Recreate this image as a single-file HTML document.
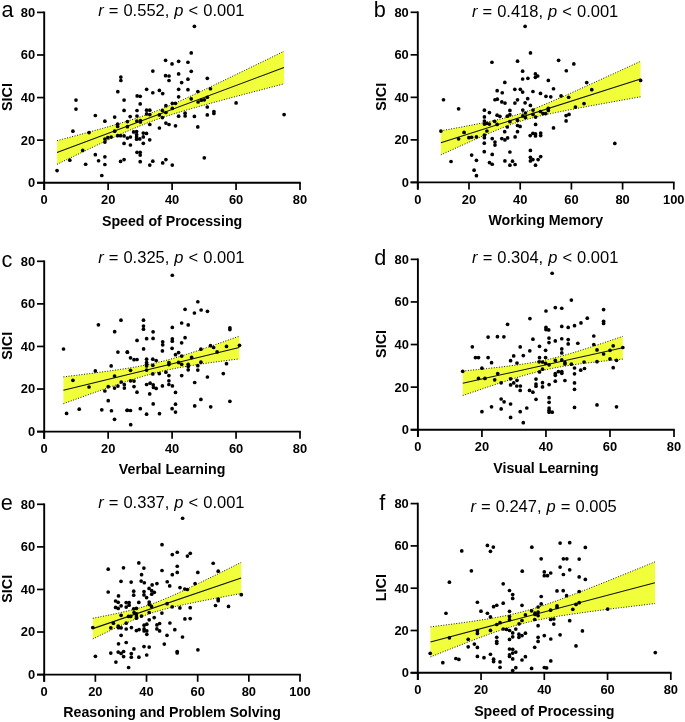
<!DOCTYPE html><html><head><meta charset="utf-8"><style>html,body{margin:0;padding:0;background:#fff;}svg{display:block;will-change:transform}</style></head><body>
<svg width="685" height="722" viewBox="0 0 685 722" style="font-family:&quot;Liberation Sans&quot;, sans-serif">
<rect width="685" height="722" fill="#fff"/>
<g id="pa"><polygon points="56.99,140.69 62.67,139.19 68.34,137.68 74.02,136.17 79.69,134.64 85.37,133.11 91.04,131.56 96.72,130 102.39,128.43 108.07,126.82 113.75,125.19 119.42,123.53 125.1,121.82 130.77,120.05 136.45,118.2 142.12,116.28 147.8,114.26 153.47,112.13 159.15,109.9 164.83,107.58 170.5,105.17 176.18,102.69 181.85,100.15 187.53,97.57 193.2,94.95 198.88,92.3 204.55,89.63 210.23,86.94 215.91,84.24 221.58,81.53 227.26,78.8 232.93,76.07 238.61,73.33 244.28,70.58 249.96,67.83 255.63,65.08 261.31,62.32 266.99,59.56 272.66,56.8 278.34,54.03 284.01,51.26 284.01,83.84 278.34,85.32 272.66,86.8 266.99,88.29 261.31,89.77 255.63,91.26 249.96,92.76 244.28,94.25 238.61,95.76 232.93,97.27 227.26,98.78 221.58,100.3 215.91,101.84 210.23,103.38 204.55,104.94 198.88,106.52 193.2,108.12 187.53,109.75 181.85,111.42 176.18,113.13 170.5,114.9 164.83,116.73 159.15,118.66 153.47,120.68 147.8,122.8 142.12,125.03 136.45,127.35 130.77,129.76 125.1,132.23 119.42,134.77 113.75,137.35 108.07,139.97 102.39,142.62 96.72,145.28 91.04,147.97 85.37,150.67 79.69,153.39 74.02,156.11 68.34,158.85 62.67,161.59 56.99,164.33" fill="#f0ff3a"/><polyline points="56.99,140.69 62.67,139.19 68.34,137.68 74.02,136.17 79.69,134.64 85.37,133.11 91.04,131.56 96.72,130 102.39,128.43 108.07,126.82 113.75,125.19 119.42,123.53 125.1,121.82 130.77,120.05 136.45,118.2 142.12,116.28 147.8,114.26 153.47,112.13 159.15,109.9 164.83,107.58 170.5,105.17 176.18,102.69 181.85,100.15 187.53,97.57 193.2,94.95 198.88,92.3 204.55,89.63 210.23,86.94 215.91,84.24 221.58,81.53 227.26,78.8 232.93,76.07 238.61,73.33 244.28,70.58 249.96,67.83 255.63,65.08 261.31,62.32 266.99,59.56 272.66,56.8 278.34,54.03 284.01,51.26" fill="none" stroke="#000" stroke-width="0.9" stroke-dasharray="1 1.6"/><polyline points="56.99,164.33 62.67,161.59 68.34,158.85 74.02,156.11 79.69,153.39 85.37,150.67 91.04,147.97 96.72,145.28 102.39,142.62 108.07,139.97 113.75,137.35 119.42,134.77 125.1,132.23 130.77,129.76 136.45,127.35 142.12,125.03 147.8,122.8 153.47,120.68 159.15,118.66 164.83,116.73 170.5,114.9 176.18,113.13 181.85,111.42 187.53,109.75 193.2,108.12 198.88,106.52 204.55,104.94 210.23,103.38 215.91,101.84 221.58,100.3 227.26,98.78 232.93,97.27 238.61,95.76 244.28,94.25 249.96,92.76 255.63,91.26 261.31,89.77 266.99,88.29 272.66,86.8 278.34,85.32 284.01,83.84" fill="none" stroke="#000" stroke-width="0.9" stroke-dasharray="1 1.6"/><line x1="56.99" y1="152.51" x2="284.01" y2="67.55" stroke="#111" stroke-width="1.1"/><circle cx="117.82" cy="91.69" r="1.85"/><circle cx="120.86" cy="77.08" r="1.85"/><circle cx="120.86" cy="80.5" r="1.85"/><circle cx="194.4" cy="26.31" r="1.85"/><circle cx="191.24" cy="52.93" r="1.85"/><circle cx="165.58" cy="60.34" r="1.85"/><circle cx="172.03" cy="63.91" r="1.85"/><circle cx="178.62" cy="61.3" r="1.85"/><circle cx="187.95" cy="62.26" r="1.85"/><circle cx="152.82" cy="71.05" r="1.85"/><circle cx="191.24" cy="71.32" r="1.85"/><circle cx="165.58" cy="75.71" r="1.85"/><circle cx="169.01" cy="75.99" r="1.85"/><circle cx="169.01" cy="80.51" r="1.85"/><circle cx="178.62" cy="73.93" r="1.85"/><circle cx="187.95" cy="79.14" r="1.85"/><circle cx="181.64" cy="82.57" r="1.85"/><circle cx="207.3" cy="78.32" r="1.85"/><circle cx="146.64" cy="89.3" r="1.85"/><circle cx="152.82" cy="92.73" r="1.85"/><circle cx="159.4" cy="90.39" r="1.85"/><circle cx="162.7" cy="93.55" r="1.85"/><circle cx="178.62" cy="89.3" r="1.85"/><circle cx="187.95" cy="89.71" r="1.85"/><circle cx="197.83" cy="91.49" r="1.85"/><circle cx="210.45" cy="88.75" r="1.85"/><circle cx="137.17" cy="95.88" r="1.85"/><circle cx="140.19" cy="96.29" r="1.85"/><circle cx="178.62" cy="96.84" r="1.85"/><circle cx="207.3" cy="97.26" r="1.85"/><circle cx="75.99" cy="100.04" r="1.85"/><circle cx="75.99" cy="109.04" r="1.85"/><circle cx="95.33" cy="115.49" r="1.85"/><circle cx="104.87" cy="121.13" r="1.85"/><circle cx="114.67" cy="117.1" r="1.85"/><circle cx="124.08" cy="100.04" r="1.85"/><circle cx="124.08" cy="110.39" r="1.85"/><circle cx="127.43" cy="121.53" r="1.85"/><circle cx="117.63" cy="124.22" r="1.85"/><circle cx="117.63" cy="126.5" r="1.85"/><circle cx="127.43" cy="126.64" r="1.85"/><circle cx="72.91" cy="131.2" r="1.85"/><circle cx="89.02" cy="132.55" r="1.85"/><circle cx="114.67" cy="131.2" r="1.85"/><circle cx="104.87" cy="138.99" r="1.85"/><circle cx="107.82" cy="137.65" r="1.85"/><circle cx="111.18" cy="136.98" r="1.85"/><circle cx="104.87" cy="142.08" r="1.85"/><circle cx="117.63" cy="135.64" r="1.85"/><circle cx="120.58" cy="135.64" r="1.85"/><circle cx="124.08" cy="135.9" r="1.85"/><circle cx="127.43" cy="138.05" r="1.85"/><circle cx="124.08" cy="143.42" r="1.85"/><circle cx="82.71" cy="150.41" r="1.85"/><circle cx="95.33" cy="154.71" r="1.85"/><circle cx="104.87" cy="156.86" r="1.85"/><circle cx="98.56" cy="160.75" r="1.85"/><circle cx="69.82" cy="160.21" r="1.85"/><circle cx="85.66" cy="164.24" r="1.85"/><circle cx="104.87" cy="164.51" r="1.85"/><circle cx="120.58" cy="161.42" r="1.85"/><circle cx="124.08" cy="159.54" r="1.85"/><circle cx="57.06" cy="170.55" r="1.85"/><circle cx="101.78" cy="175.52" r="1.85"/><circle cx="191.2" cy="98.8" r="1.85"/><circle cx="198.1" cy="102" r="1.85"/><circle cx="201.3" cy="100.2" r="1.85"/><circle cx="204.3" cy="99.8" r="1.85"/><circle cx="172.3" cy="103.3" r="1.85"/><circle cx="175.5" cy="103.3" r="1.85"/><circle cx="165.9" cy="105.7" r="1.85"/><circle cx="172.3" cy="108.4" r="1.85"/><circle cx="140.2" cy="103.9" r="1.85"/><circle cx="137" cy="110.5" r="1.85"/><circle cx="137" cy="116" r="1.85"/><circle cx="146.6" cy="110.2" r="1.85"/><circle cx="149.8" cy="110.2" r="1.85"/><circle cx="146.6" cy="113.9" r="1.85"/><circle cx="149.8" cy="114.6" r="1.85"/><circle cx="162.4" cy="110.5" r="1.85"/><circle cx="165.9" cy="112.5" r="1.85"/><circle cx="159.4" cy="114.9" r="1.85"/><circle cx="162.4" cy="117.6" r="1.85"/><circle cx="178.6" cy="116.2" r="1.85"/><circle cx="185.1" cy="113.2" r="1.85"/><circle cx="185.1" cy="116" r="1.85"/><circle cx="194.4" cy="116.4" r="1.85"/><circle cx="207.3" cy="107" r="1.85"/><circle cx="207.3" cy="114.9" r="1.85"/><circle cx="213.9" cy="111.6" r="1.85"/><circle cx="213.9" cy="113.5" r="1.85"/><circle cx="130.2" cy="116.6" r="1.85"/><circle cx="136.8" cy="121.1" r="1.85"/><circle cx="140.4" cy="120.5" r="1.85"/><circle cx="140.4" cy="122" r="1.85"/><circle cx="149.8" cy="124.5" r="1.85"/><circle cx="159.4" cy="128" r="1.85"/><circle cx="165.9" cy="123.1" r="1.85"/><circle cx="169" cy="124.5" r="1.85"/><circle cx="175.5" cy="125.8" r="1.85"/><circle cx="197.8" cy="126.9" r="1.85"/><circle cx="133.6" cy="131.9" r="1.85"/><circle cx="136.6" cy="131.6" r="1.85"/><circle cx="136.6" cy="134.5" r="1.85"/><circle cx="136.6" cy="136.9" r="1.85"/><circle cx="136.6" cy="139.2" r="1.85"/><circle cx="139.8" cy="138.9" r="1.85"/><circle cx="143.3" cy="133.1" r="1.85"/><circle cx="146.5" cy="133.4" r="1.85"/><circle cx="143.3" cy="136.9" r="1.85"/><circle cx="149.7" cy="139.8" r="1.85"/><circle cx="130.4" cy="137" r="1.85"/><circle cx="130.4" cy="145" r="1.85"/><circle cx="143.3" cy="143.3" r="1.85"/><circle cx="137" cy="152.3" r="1.85"/><circle cx="140.2" cy="152.3" r="1.85"/><circle cx="140.2" cy="155.1" r="1.85"/><circle cx="140.2" cy="161.7" r="1.85"/><circle cx="152.8" cy="161.2" r="1.85"/><circle cx="149.8" cy="165.1" r="1.85"/><circle cx="162.7" cy="162.9" r="1.85"/><circle cx="165.9" cy="159.6" r="1.85"/><circle cx="172.3" cy="165.1" r="1.85"/><circle cx="204.3" cy="157.8" r="1.85"/><circle cx="236.1" cy="102.9" r="1.85"/><circle cx="284.1" cy="114.6" r="1.85"/><line x1="44.2" y1="11.55" x2="44.2" y2="189.95" stroke="#000" stroke-width="1.9"/><line x1="37" y1="182.75" x2="300.8" y2="182.75" stroke="#000" stroke-width="1.9"/><line x1="37" y1="182.75" x2="44.2" y2="182.75" stroke="#000" stroke-width="1.7"/><text x="35.2" y="187.15" font-size="12.9" font-weight="bold" text-anchor="end">0</text><line x1="37" y1="140.16" x2="44.2" y2="140.16" stroke="#000" stroke-width="1.7"/><text x="35.2" y="144.56" font-size="12.9" font-weight="bold" text-anchor="end">20</text><line x1="37" y1="97.58" x2="44.2" y2="97.58" stroke="#000" stroke-width="1.7"/><text x="35.2" y="101.98" font-size="12.9" font-weight="bold" text-anchor="end">40</text><line x1="37" y1="54.99" x2="44.2" y2="54.99" stroke="#000" stroke-width="1.7"/><text x="35.2" y="59.39" font-size="12.9" font-weight="bold" text-anchor="end">60</text><line x1="37" y1="12.4" x2="44.2" y2="12.4" stroke="#000" stroke-width="1.7"/><text x="35.2" y="16.8" font-size="12.9" font-weight="bold" text-anchor="end">80</text><line x1="44.2" y1="182.75" x2="44.2" y2="189.95" stroke="#000" stroke-width="1.7"/><text x="44.2" y="204.05" font-size="12.9" font-weight="bold" text-anchor="middle">0</text><line x1="108.15" y1="182.75" x2="108.15" y2="189.95" stroke="#000" stroke-width="1.7"/><text x="108.15" y="204.05" font-size="12.9" font-weight="bold" text-anchor="middle">20</text><line x1="172.1" y1="182.75" x2="172.1" y2="189.95" stroke="#000" stroke-width="1.7"/><text x="172.1" y="204.05" font-size="12.9" font-weight="bold" text-anchor="middle">40</text><line x1="236.05" y1="182.75" x2="236.05" y2="189.95" stroke="#000" stroke-width="1.7"/><text x="236.05" y="204.05" font-size="12.9" font-weight="bold" text-anchor="middle">60</text><line x1="300" y1="182.75" x2="300" y2="189.95" stroke="#000" stroke-width="1.7"/><text x="300" y="204.05" font-size="12.9" font-weight="bold" text-anchor="middle">80</text><text x="172.1" y="225.55" font-size="14.2" font-weight="bold" text-anchor="middle">Speed of Processing</text><text transform="translate(12.2,96.98) rotate(-90)" font-size="14.4" font-weight="bold" text-anchor="middle">SICI</text><text x="171.4" y="16.1" font-size="16.5" word-spacing="0.45" text-anchor="middle"><tspan font-style="italic">r</tspan> = 0.552, <tspan font-style="italic">p</tspan> &lt; 0.001</text><text x="1.6" y="16.7" font-size="21.7">a</text></g>
<g id="pb"><polygon points="440.84,130.84 445.83,129.92 450.82,129 455.82,128.07 460.81,127.14 465.8,126.19 470.79,125.24 475.78,124.27 480.78,123.28 485.77,122.26 490.76,121.22 495.75,120.13 500.74,118.99 505.74,117.78 510.73,116.47 515.72,115.05 520.71,113.51 525.7,111.83 530.7,110.02 535.69,108.11 540.68,106.11 545.67,104.04 550.66,101.93 555.66,99.77 560.65,97.59 565.64,95.39 570.63,93.16 575.62,90.93 580.62,88.68 585.61,86.42 590.6,84.16 595.59,81.89 600.58,79.61 605.58,77.34 610.57,75.05 615.56,72.77 620.55,70.48 625.54,68.19 630.54,65.9 635.53,63.61 640.52,61.31 640.52,96.82 635.53,97.71 630.54,98.61 625.54,99.51 620.55,100.41 615.56,101.31 610.57,102.21 605.58,103.12 600.58,104.03 595.59,104.94 590.6,105.86 585.61,106.79 580.62,107.72 575.62,108.66 570.63,109.62 565.64,110.58 560.65,111.57 555.66,112.57 550.66,113.61 545.67,114.68 540.68,115.81 535.69,117 530.7,118.27 525.7,119.66 520.71,121.17 515.72,122.81 510.73,124.58 505.74,126.46 500.74,128.44 495.75,130.49 490.76,132.59 485.77,134.74 480.78,136.91 475.78,139.11 470.79,141.33 465.8,143.56 460.81,145.81 455.82,148.06 450.82,150.32 445.83,152.59 440.84,154.87" fill="#f0ff3a"/><polyline points="440.84,130.84 445.83,129.92 450.82,129 455.82,128.07 460.81,127.14 465.8,126.19 470.79,125.24 475.78,124.27 480.78,123.28 485.77,122.26 490.76,121.22 495.75,120.13 500.74,118.99 505.74,117.78 510.73,116.47 515.72,115.05 520.71,113.51 525.7,111.83 530.7,110.02 535.69,108.11 540.68,106.11 545.67,104.04 550.66,101.93 555.66,99.77 560.65,97.59 565.64,95.39 570.63,93.16 575.62,90.93 580.62,88.68 585.61,86.42 590.6,84.16 595.59,81.89 600.58,79.61 605.58,77.34 610.57,75.05 615.56,72.77 620.55,70.48 625.54,68.19 630.54,65.9 635.53,63.61 640.52,61.31" fill="none" stroke="#000" stroke-width="0.9" stroke-dasharray="1 1.6"/><polyline points="440.84,154.87 445.83,152.59 450.82,150.32 455.82,148.06 460.81,145.81 465.8,143.56 470.79,141.33 475.78,139.11 480.78,136.91 485.77,134.74 490.76,132.59 495.75,130.49 500.74,128.44 505.74,126.46 510.73,124.58 515.72,122.81 520.71,121.17 525.7,119.66 530.7,118.27 535.69,117 540.68,115.81 545.67,114.68 550.66,113.61 555.66,112.57 560.65,111.57 565.64,110.58 570.63,109.62 575.62,108.66 580.62,107.72 585.61,106.79 590.6,105.86 595.59,104.94 600.58,104.03 605.58,103.12 610.57,102.21 615.56,101.31 620.55,100.41 625.54,99.51 630.54,98.61 635.53,97.71 640.52,96.82" fill="none" stroke="#000" stroke-width="0.9" stroke-dasharray="1 1.6"/><line x1="440.84" y1="142.85" x2="640.52" y2="79.06" stroke="#111" stroke-width="1.1"/><circle cx="491.94" cy="62.26" r="1.85"/><circle cx="497.16" cy="90.67" r="1.85"/><circle cx="502.24" cy="92.73" r="1.85"/><circle cx="525.11" cy="26.31" r="1.85"/><circle cx="530.46" cy="52.93" r="1.85"/><circle cx="517.56" cy="61.16" r="1.85"/><circle cx="558.6" cy="60.34" r="1.85"/><circle cx="573.83" cy="63.91" r="1.85"/><circle cx="522.64" cy="71.18" r="1.85"/><circle cx="566.28" cy="70.77" r="1.85"/><circle cx="522.64" cy="79" r="1.85"/><circle cx="527.86" cy="78.32" r="1.85"/><circle cx="535.4" cy="73.93" r="1.85"/><circle cx="537.74" cy="75.99" r="1.85"/><circle cx="535.4" cy="77.36" r="1.85"/><circle cx="504.8" cy="82.44" r="1.85"/><circle cx="548.3" cy="80.38" r="1.85"/><circle cx="586.73" cy="82.57" r="1.85"/><circle cx="514.82" cy="89.3" r="1.85"/><circle cx="520.31" cy="89.3" r="1.85"/><circle cx="522.64" cy="92.04" r="1.85"/><circle cx="532.93" cy="91.49" r="1.85"/><circle cx="553.52" cy="88.75" r="1.85"/><circle cx="540.48" cy="93.41" r="1.85"/><circle cx="545.97" cy="96.29" r="1.85"/><circle cx="550.77" cy="96.84" r="1.85"/><circle cx="561.07" cy="95.88" r="1.85"/><circle cx="568.61" cy="97.26" r="1.85"/><circle cx="640.62" cy="80.38" r="1.85"/><circle cx="591.76" cy="89.71" r="1.85"/><circle cx="443.5" cy="99.76" r="1.85"/><circle cx="458.6" cy="108.82" r="1.85"/><circle cx="440.9" cy="131.05" r="1.85"/><circle cx="464.09" cy="132.42" r="1.85"/><circle cx="458.6" cy="138.87" r="1.85"/><circle cx="468.89" cy="137.64" r="1.85"/><circle cx="471.64" cy="137.23" r="1.85"/><circle cx="476.44" cy="136.95" r="1.85"/><circle cx="451.05" cy="161.52" r="1.85"/><circle cx="471.64" cy="155.07" r="1.85"/><circle cx="476.44" cy="160.28" r="1.85"/><circle cx="474.11" cy="170.16" r="1.85"/><circle cx="476.44" cy="175.65" r="1.85"/><circle cx="494.96" cy="99.76" r="1.85"/><circle cx="497.3" cy="99.21" r="1.85"/><circle cx="501.82" cy="101.96" r="1.85"/><circle cx="484.26" cy="143.13" r="1.85"/><circle cx="492.22" cy="138.6" r="1.85"/><circle cx="494.96" cy="142.03" r="1.85"/><circle cx="494.96" cy="145.05" r="1.85"/><circle cx="484.26" cy="151.64" r="1.85"/><circle cx="492.22" cy="154.38" r="1.85"/><circle cx="489.47" cy="162.61" r="1.85"/><circle cx="492.22" cy="164.26" r="1.85"/><circle cx="501.82" cy="138.6" r="1.85"/><circle cx="484.4" cy="110.2" r="1.85"/><circle cx="489.4" cy="112.6" r="1.85"/><circle cx="497.1" cy="115.2" r="1.85"/><circle cx="499.9" cy="116.3" r="1.85"/><circle cx="484.4" cy="116.9" r="1.85"/><circle cx="484.4" cy="121.1" r="1.85"/><circle cx="484.4" cy="124.1" r="1.85"/><circle cx="486.9" cy="123.3" r="1.85"/><circle cx="489.4" cy="124.1" r="1.85"/><circle cx="494.6" cy="121.3" r="1.85"/><circle cx="497.1" cy="124.4" r="1.85"/><circle cx="486.9" cy="131" r="1.85"/><circle cx="484.4" cy="135.2" r="1.85"/><circle cx="484.4" cy="137.7" r="1.85"/><circle cx="505" cy="103.1" r="1.85"/><circle cx="517.5" cy="99.8" r="1.85"/><circle cx="514.9" cy="103.1" r="1.85"/><circle cx="527.7" cy="98.7" r="1.85"/><circle cx="525.1" cy="102.8" r="1.85"/><circle cx="530.4" cy="105.4" r="1.85"/><circle cx="509.9" cy="110.4" r="1.85"/><circle cx="522.8" cy="110.1" r="1.85"/><circle cx="533" cy="110.1" r="1.85"/><circle cx="507.3" cy="116.2" r="1.85"/><circle cx="509.9" cy="114.7" r="1.85"/><circle cx="525.4" cy="113" r="1.85"/><circle cx="522.8" cy="115.9" r="1.85"/><circle cx="525.4" cy="117.6" r="1.85"/><circle cx="533" cy="114.4" r="1.85"/><circle cx="535.6" cy="117.1" r="1.85"/><circle cx="517.5" cy="120.3" r="1.85"/><circle cx="509.9" cy="121.7" r="1.85"/><circle cx="507.3" cy="127" r="1.85"/><circle cx="517.5" cy="125.5" r="1.85"/><circle cx="520.1" cy="126.4" r="1.85"/><circle cx="535.6" cy="124.4" r="1.85"/><circle cx="504.7" cy="131.7" r="1.85"/><circle cx="517.5" cy="131.7" r="1.85"/><circle cx="575.4" cy="107.1" r="1.85"/><circle cx="548.3" cy="108.3" r="1.85"/><circle cx="548.3" cy="110.4" r="1.85"/><circle cx="540.4" cy="111.5" r="1.85"/><circle cx="543" cy="113.6" r="1.85"/><circle cx="545.6" cy="113.6" r="1.85"/><circle cx="566.1" cy="115.6" r="1.85"/><circle cx="569" cy="114.4" r="1.85"/><circle cx="566.1" cy="120.9" r="1.85"/><circle cx="553.5" cy="127.9" r="1.85"/><circle cx="584" cy="103.6" r="1.85"/><circle cx="504.9" cy="139.9" r="1.85"/><circle cx="507.6" cy="137.9" r="1.85"/><circle cx="515.1" cy="136.9" r="1.85"/><circle cx="530.2" cy="135.6" r="1.85"/><circle cx="532.9" cy="133.3" r="1.85"/><circle cx="535.5" cy="133.9" r="1.85"/><circle cx="535.5" cy="135.9" r="1.85"/><circle cx="540.7" cy="133" r="1.85"/><circle cx="540.7" cy="135.6" r="1.85"/><circle cx="509.9" cy="152" r="1.85"/><circle cx="530.4" cy="150.4" r="1.85"/><circle cx="504.9" cy="160.9" r="1.85"/><circle cx="512.5" cy="161.2" r="1.85"/><circle cx="509.9" cy="165.2" r="1.85"/><circle cx="515.1" cy="164.5" r="1.85"/><circle cx="530.4" cy="157.3" r="1.85"/><circle cx="530.4" cy="160.9" r="1.85"/><circle cx="532.9" cy="159.6" r="1.85"/><circle cx="538.1" cy="159.6" r="1.85"/><circle cx="540.7" cy="156.6" r="1.85"/><circle cx="535.5" cy="165.2" r="1.85"/><circle cx="614.8" cy="143.4" r="1.85"/><line x1="417.8" y1="11.45" x2="417.8" y2="189.6" stroke="#000" stroke-width="1.9"/><line x1="410.6" y1="182.4" x2="674.6" y2="182.4" stroke="#000" stroke-width="1.9"/><line x1="410.6" y1="182.4" x2="417.8" y2="182.4" stroke="#000" stroke-width="1.7"/><text x="408.8" y="186.8" font-size="12.9" font-weight="bold" text-anchor="end">0</text><line x1="410.6" y1="139.88" x2="417.8" y2="139.88" stroke="#000" stroke-width="1.7"/><text x="408.8" y="144.28" font-size="12.9" font-weight="bold" text-anchor="end">20</text><line x1="410.6" y1="97.35" x2="417.8" y2="97.35" stroke="#000" stroke-width="1.7"/><text x="408.8" y="101.75" font-size="12.9" font-weight="bold" text-anchor="end">40</text><line x1="410.6" y1="54.83" x2="417.8" y2="54.83" stroke="#000" stroke-width="1.7"/><text x="408.8" y="59.23" font-size="12.9" font-weight="bold" text-anchor="end">60</text><line x1="410.6" y1="12.3" x2="417.8" y2="12.3" stroke="#000" stroke-width="1.7"/><text x="408.8" y="16.7" font-size="12.9" font-weight="bold" text-anchor="end">80</text><line x1="417.8" y1="182.4" x2="417.8" y2="189.6" stroke="#000" stroke-width="1.7"/><text x="417.8" y="203.7" font-size="12.9" font-weight="bold" text-anchor="middle">0</text><line x1="469" y1="182.4" x2="469" y2="189.6" stroke="#000" stroke-width="1.7"/><text x="469" y="203.7" font-size="12.9" font-weight="bold" text-anchor="middle">20</text><line x1="520.2" y1="182.4" x2="520.2" y2="189.6" stroke="#000" stroke-width="1.7"/><text x="520.2" y="203.7" font-size="12.9" font-weight="bold" text-anchor="middle">40</text><line x1="571.4" y1="182.4" x2="571.4" y2="189.6" stroke="#000" stroke-width="1.7"/><text x="571.4" y="203.7" font-size="12.9" font-weight="bold" text-anchor="middle">60</text><line x1="622.6" y1="182.4" x2="622.6" y2="189.6" stroke="#000" stroke-width="1.7"/><text x="622.6" y="203.7" font-size="12.9" font-weight="bold" text-anchor="middle">80</text><line x1="673.8" y1="182.4" x2="673.8" y2="189.6" stroke="#000" stroke-width="1.7"/><text x="673.8" y="203.7" font-size="12.9" font-weight="bold" text-anchor="middle">100</text><text x="545.8" y="225.2" font-size="14.2" font-weight="bold" text-anchor="middle">Working Memory</text><text transform="translate(385.8,96.75) rotate(-90)" font-size="14.4" font-weight="bold" text-anchor="middle">SICI</text><text x="545.1" y="16.6" font-size="16.5" word-spacing="0.45" text-anchor="middle"><tspan font-style="italic">r</tspan> = 0.418, <tspan font-style="italic">p</tspan> &lt; 0.001</text><text x="373.8" y="17.2" font-size="21.7">b</text></g>
<g id="pc"><polygon points="63.39,376.89 67.78,376.35 72.18,375.8 76.57,375.26 80.97,374.7 85.37,374.14 89.76,373.58 94.16,373 98.56,372.42 102.95,371.83 107.35,371.23 111.75,370.62 116.14,369.99 120.54,369.34 124.94,368.67 129.33,367.97 133.73,367.24 138.13,366.47 142.52,365.66 146.92,364.8 151.32,363.89 155.71,362.91 160.11,361.87 164.51,360.77 168.9,359.59 173.3,358.36 177.7,357.07 182.09,355.74 186.49,354.36 190.89,352.95 195.28,351.5 199.68,350.03 204.07,348.54 208.47,347.02 212.87,345.5 217.26,343.96 221.66,342.41 226.06,340.85 230.45,339.28 234.85,337.71 239.25,336.13 239.25,358.9 234.85,359.46 230.45,360.03 226.06,360.6 221.66,361.18 217.26,361.77 212.87,362.37 208.47,362.98 204.07,363.61 199.68,364.25 195.28,364.92 190.89,365.62 186.49,366.34 182.09,367.1 177.7,367.91 173.3,368.76 168.9,369.66 164.51,370.63 160.11,371.67 155.71,372.76 151.32,373.93 146.92,375.15 142.52,376.43 138.13,377.76 133.73,379.14 129.33,380.55 124.94,381.99 120.54,383.46 116.14,384.95 111.75,386.45 107.35,387.98 102.95,389.52 98.56,391.07 94.16,392.62 89.76,394.19 85.37,395.77 80.97,397.35 76.57,398.93 72.18,400.52 67.78,402.12 63.39,403.71" fill="#f0ff3a"/><polyline points="63.39,376.89 67.78,376.35 72.18,375.8 76.57,375.26 80.97,374.7 85.37,374.14 89.76,373.58 94.16,373 98.56,372.42 102.95,371.83 107.35,371.23 111.75,370.62 116.14,369.99 120.54,369.34 124.94,368.67 129.33,367.97 133.73,367.24 138.13,366.47 142.52,365.66 146.92,364.8 151.32,363.89 155.71,362.91 160.11,361.87 164.51,360.77 168.9,359.59 173.3,358.36 177.7,357.07 182.09,355.74 186.49,354.36 190.89,352.95 195.28,351.5 199.68,350.03 204.07,348.54 208.47,347.02 212.87,345.5 217.26,343.96 221.66,342.41 226.06,340.85 230.45,339.28 234.85,337.71 239.25,336.13" fill="none" stroke="#000" stroke-width="0.9" stroke-dasharray="1 1.6"/><polyline points="63.39,403.71 67.78,402.12 72.18,400.52 76.57,398.93 80.97,397.35 85.37,395.77 89.76,394.19 94.16,392.62 98.56,391.07 102.95,389.52 107.35,387.98 111.75,386.45 116.14,384.95 120.54,383.46 124.94,381.99 129.33,380.55 133.73,379.14 138.13,377.76 142.52,376.43 146.92,375.15 151.32,373.93 155.71,372.76 160.11,371.67 164.51,370.63 168.9,369.66 173.3,368.76 177.7,367.91 182.09,367.1 186.49,366.34 190.89,365.62 195.28,364.92 199.68,364.25 204.07,363.61 208.47,362.98 212.87,362.37 217.26,361.77 221.66,361.18 226.06,360.6 230.45,360.03 234.85,359.46 239.25,358.9" fill="none" stroke="#000" stroke-width="0.9" stroke-dasharray="1 1.6"/><line x1="63.39" y1="390.3" x2="239.25" y2="347.51" stroke="#111" stroke-width="1.1"/><circle cx="98.42" cy="324.78" r="1.85"/><circle cx="120.99" cy="320.21" r="1.85"/><circle cx="114.67" cy="331.63" r="1.85"/><circle cx="172.3" cy="275.27" r="1.85"/><circle cx="197.83" cy="301.75" r="1.85"/><circle cx="185.07" cy="309.3" r="1.85"/><circle cx="194.4" cy="313.01" r="1.85"/><circle cx="201.12" cy="309.99" r="1.85"/><circle cx="207.43" cy="311.36" r="1.85"/><circle cx="143.49" cy="320.14" r="1.85"/><circle cx="143.49" cy="326.04" r="1.85"/><circle cx="143.49" cy="329.2" r="1.85"/><circle cx="181.64" cy="323.02" r="1.85"/><circle cx="188.22" cy="324.95" r="1.85"/><circle cx="172.3" cy="327.42" r="1.85"/><circle cx="153.09" cy="331.81" r="1.85"/><circle cx="137.04" cy="340.45" r="1.85"/><circle cx="146.64" cy="338.67" r="1.85"/><circle cx="153.09" cy="338.39" r="1.85"/><circle cx="162.7" cy="341.82" r="1.85"/><circle cx="162.7" cy="344.84" r="1.85"/><circle cx="172.3" cy="338.81" r="1.85"/><circle cx="172.3" cy="341.14" r="1.85"/><circle cx="181.64" cy="342.79" r="1.85"/><circle cx="185.07" cy="337.71" r="1.85"/><circle cx="210.5" cy="345.7" r="1.85"/><circle cx="229.9" cy="327.8" r="1.85"/><circle cx="229.9" cy="329.6" r="1.85"/><circle cx="239.5" cy="345.3" r="1.85"/><circle cx="63.5" cy="348.98" r="1.85"/><circle cx="117.9" cy="352.07" r="1.85"/><circle cx="127.3" cy="352.07" r="1.85"/><circle cx="111.18" cy="365.91" r="1.85"/><circle cx="95.33" cy="370.88" r="1.85"/><circle cx="72.91" cy="380.28" r="1.85"/><circle cx="114.54" cy="375.98" r="1.85"/><circle cx="89.02" cy="386.99" r="1.85"/><circle cx="108.23" cy="386.72" r="1.85"/><circle cx="104.87" cy="391.02" r="1.85"/><circle cx="117.9" cy="386.05" r="1.85"/><circle cx="121.26" cy="382.02" r="1.85"/><circle cx="124.34" cy="384.71" r="1.85"/><circle cx="124.34" cy="388.07" r="1.85"/><circle cx="114.54" cy="388.07" r="1.85"/><circle cx="108.23" cy="400.69" r="1.85"/><circle cx="66.59" cy="413.45" r="1.85"/><circle cx="79.22" cy="409.15" r="1.85"/><circle cx="101.78" cy="409.82" r="1.85"/><circle cx="111.45" cy="410.76" r="1.85"/><circle cx="114.54" cy="419.36" r="1.85"/><circle cx="127.3" cy="410.23" r="1.85"/><circle cx="143.6" cy="348.9" r="1.85"/><circle cx="162.4" cy="350.9" r="1.85"/><circle cx="127.4" cy="352.2" r="1.85"/><circle cx="130.5" cy="357.8" r="1.85"/><circle cx="134" cy="359.7" r="1.85"/><circle cx="137" cy="359.5" r="1.85"/><circle cx="146.6" cy="359.2" r="1.85"/><circle cx="146.6" cy="362.6" r="1.85"/><circle cx="146.6" cy="364.3" r="1.85"/><circle cx="146.6" cy="366" r="1.85"/><circle cx="146.6" cy="370.1" r="1.85"/><circle cx="152.8" cy="359.2" r="1.85"/><circle cx="156.2" cy="360.5" r="1.85"/><circle cx="152.8" cy="365.3" r="1.85"/><circle cx="130.5" cy="370.3" r="1.85"/><circle cx="152.8" cy="373.9" r="1.85"/><circle cx="159.3" cy="373.6" r="1.85"/><circle cx="165.9" cy="372.2" r="1.85"/><circle cx="168.9" cy="362.6" r="1.85"/><circle cx="168.9" cy="364.6" r="1.85"/><circle cx="168.9" cy="375.6" r="1.85"/><circle cx="130.5" cy="380.8" r="1.85"/><circle cx="134" cy="381.1" r="1.85"/><circle cx="134" cy="386.6" r="1.85"/><circle cx="146.6" cy="384.5" r="1.85"/><circle cx="150.1" cy="383.2" r="1.85"/><circle cx="153.2" cy="384.9" r="1.85"/><circle cx="153.5" cy="387.5" r="1.85"/><circle cx="156.2" cy="388.4" r="1.85"/><circle cx="162.4" cy="385.9" r="1.85"/><circle cx="168.9" cy="380.8" r="1.85"/><circle cx="168.9" cy="384.5" r="1.85"/><circle cx="172.1" cy="348.3" r="1.85"/><circle cx="175.5" cy="354.7" r="1.85"/><circle cx="178.6" cy="352.6" r="1.85"/><circle cx="181.7" cy="356.1" r="1.85"/><circle cx="200.9" cy="349.2" r="1.85"/><circle cx="213.6" cy="347.5" r="1.85"/><circle cx="191.6" cy="357.4" r="1.85"/><circle cx="178.6" cy="362.4" r="1.85"/><circle cx="181.7" cy="364.3" r="1.85"/><circle cx="188.2" cy="364.3" r="1.85"/><circle cx="188.2" cy="366.4" r="1.85"/><circle cx="188.2" cy="369.8" r="1.85"/><circle cx="197.8" cy="365.7" r="1.85"/><circle cx="197.8" cy="370.1" r="1.85"/><circle cx="200.9" cy="362.2" r="1.85"/><circle cx="181.7" cy="375.6" r="1.85"/><circle cx="207.4" cy="377" r="1.85"/><circle cx="194.7" cy="382.5" r="1.85"/><circle cx="172.4" cy="385.9" r="1.85"/><circle cx="137" cy="392.2" r="1.85"/><circle cx="149.7" cy="393.9" r="1.85"/><circle cx="153.2" cy="403.9" r="1.85"/><circle cx="140.3" cy="408.7" r="1.85"/><circle cx="127.1" cy="410.3" r="1.85"/><circle cx="130.5" cy="410.5" r="1.85"/><circle cx="146.6" cy="414.2" r="1.85"/><circle cx="159.5" cy="413.7" r="1.85"/><circle cx="130.7" cy="424.7" r="1.85"/><circle cx="175.5" cy="392.4" r="1.85"/><circle cx="175.5" cy="404.2" r="1.85"/><circle cx="172.1" cy="408.7" r="1.85"/><circle cx="175.5" cy="412.1" r="1.85"/><circle cx="200.9" cy="399.4" r="1.85"/><circle cx="194.7" cy="405.9" r="1.85"/><circle cx="210.7" cy="406.8" r="1.85"/><circle cx="226.5" cy="346.4" r="1.85"/><circle cx="217.1" cy="351.9" r="1.85"/><circle cx="226.5" cy="363.7" r="1.85"/><circle cx="223.3" cy="373.6" r="1.85"/><circle cx="229.9" cy="401.3" r="1.85"/><line x1="44.2" y1="260.45" x2="44.2" y2="438.8" stroke="#000" stroke-width="1.9"/><line x1="37" y1="431.6" x2="300.8" y2="431.6" stroke="#000" stroke-width="1.9"/><line x1="37" y1="431.6" x2="44.2" y2="431.6" stroke="#000" stroke-width="1.7"/><text x="35.2" y="436" font-size="12.9" font-weight="bold" text-anchor="end">0</text><line x1="37" y1="389.03" x2="44.2" y2="389.03" stroke="#000" stroke-width="1.7"/><text x="35.2" y="393.43" font-size="12.9" font-weight="bold" text-anchor="end">20</text><line x1="37" y1="346.45" x2="44.2" y2="346.45" stroke="#000" stroke-width="1.7"/><text x="35.2" y="350.85" font-size="12.9" font-weight="bold" text-anchor="end">40</text><line x1="37" y1="303.88" x2="44.2" y2="303.88" stroke="#000" stroke-width="1.7"/><text x="35.2" y="308.27" font-size="12.9" font-weight="bold" text-anchor="end">60</text><line x1="37" y1="261.3" x2="44.2" y2="261.3" stroke="#000" stroke-width="1.7"/><text x="35.2" y="265.7" font-size="12.9" font-weight="bold" text-anchor="end">80</text><line x1="44.2" y1="431.6" x2="44.2" y2="438.8" stroke="#000" stroke-width="1.7"/><text x="44.2" y="452.9" font-size="12.9" font-weight="bold" text-anchor="middle">0</text><line x1="108.15" y1="431.6" x2="108.15" y2="438.8" stroke="#000" stroke-width="1.7"/><text x="108.15" y="452.9" font-size="12.9" font-weight="bold" text-anchor="middle">20</text><line x1="172.1" y1="431.6" x2="172.1" y2="438.8" stroke="#000" stroke-width="1.7"/><text x="172.1" y="452.9" font-size="12.9" font-weight="bold" text-anchor="middle">40</text><line x1="236.05" y1="431.6" x2="236.05" y2="438.8" stroke="#000" stroke-width="1.7"/><text x="236.05" y="452.9" font-size="12.9" font-weight="bold" text-anchor="middle">60</text><line x1="300" y1="431.6" x2="300" y2="438.8" stroke="#000" stroke-width="1.7"/><text x="300" y="452.9" font-size="12.9" font-weight="bold" text-anchor="middle">80</text><text x="172.1" y="474.4" font-size="14.2" font-weight="bold" text-anchor="middle">Verbal Learning</text><text transform="translate(12.2,345.85) rotate(-90)" font-size="14.4" font-weight="bold" text-anchor="middle">SICI</text><text x="171.4" y="262.8" font-size="16.5" word-spacing="0.45" text-anchor="middle"><tspan font-style="italic">r</tspan> = 0.325, <tspan font-style="italic">p</tspan> &lt; 0.001</text><text x="1.4" y="266.5" font-size="21.7">c</text></g>
<g id="pd"><polygon points="462.72,371.04 466.72,370.64 470.72,370.24 474.72,369.83 478.72,369.41 482.73,369 486.73,368.57 490.73,368.13 494.73,367.69 498.73,367.23 502.73,366.76 506.73,366.28 510.74,365.78 514.74,365.25 518.74,364.7 522.74,364.12 526.74,363.5 530.74,362.85 534.75,362.14 538.75,361.39 542.75,360.58 546.75,359.71 550.75,358.79 554.75,357.8 558.75,356.76 562.76,355.68 566.76,354.54 570.76,353.37 574.76,352.17 578.76,350.93 582.76,349.68 586.77,348.4 590.77,347.1 594.77,345.79 598.77,344.46 602.77,343.13 606.77,341.78 610.78,340.43 614.78,339.07 618.78,337.7 622.78,336.33 622.78,359.11 618.78,359.52 614.78,359.93 610.78,360.35 606.77,360.77 602.77,361.2 598.77,361.65 594.77,362.1 590.77,362.56 586.77,363.04 582.76,363.54 578.76,364.06 574.76,364.61 570.76,365.18 566.76,365.79 562.76,366.43 558.75,367.12 554.75,367.86 550.75,368.66 546.75,369.51 542.75,370.42 538.75,371.39 534.75,372.41 530.74,373.49 526.74,374.61 522.74,375.77 518.74,376.97 514.74,378.2 510.74,379.45 506.73,380.72 502.73,382.02 498.73,383.32 494.73,384.65 490.73,385.98 486.73,387.32 482.73,388.67 478.72,390.03 474.72,391.4 470.72,392.77 466.72,394.14 462.72,395.52" fill="#f0ff3a"/><polyline points="462.72,371.04 466.72,370.64 470.72,370.24 474.72,369.83 478.72,369.41 482.73,369 486.73,368.57 490.73,368.13 494.73,367.69 498.73,367.23 502.73,366.76 506.73,366.28 510.74,365.78 514.74,365.25 518.74,364.7 522.74,364.12 526.74,363.5 530.74,362.85 534.75,362.14 538.75,361.39 542.75,360.58 546.75,359.71 550.75,358.79 554.75,357.8 558.75,356.76 562.76,355.68 566.76,354.54 570.76,353.37 574.76,352.17 578.76,350.93 582.76,349.68 586.77,348.4 590.77,347.1 594.77,345.79 598.77,344.46 602.77,343.13 606.77,341.78 610.78,340.43 614.78,339.07 618.78,337.7 622.78,336.33" fill="none" stroke="#000" stroke-width="0.9" stroke-dasharray="1 1.6"/><polyline points="462.72,395.52 466.72,394.14 470.72,392.77 474.72,391.4 478.72,390.03 482.73,388.67 486.73,387.32 490.73,385.98 494.73,384.65 498.73,383.32 502.73,382.02 506.73,380.72 510.74,379.45 514.74,378.2 518.74,376.97 522.74,375.77 526.74,374.61 530.74,373.49 534.75,372.41 538.75,371.39 542.75,370.42 546.75,369.51 550.75,368.66 554.75,367.86 558.75,367.12 562.76,366.43 566.76,365.79 570.76,365.18 574.76,364.61 578.76,364.06 582.76,363.54 586.77,363.04 590.77,362.56 594.77,362.1 598.77,361.65 602.77,361.2 606.77,360.77 610.78,360.35 614.78,359.93 618.78,359.52 622.78,359.11" fill="none" stroke="#000" stroke-width="0.9" stroke-dasharray="1 1.6"/><line x1="462.72" y1="383.28" x2="622.78" y2="347.72" stroke="#111" stroke-width="1.1"/><circle cx="488.1" cy="337.08" r="1.85"/><circle cx="497.43" cy="336.67" r="1.85"/><circle cx="503.88" cy="336.81" r="1.85"/><circle cx="552.15" cy="273.27" r="1.85"/><circle cx="571.36" cy="300.03" r="1.85"/><circle cx="555.3" cy="307.58" r="1.85"/><circle cx="561.75" cy="308.26" r="1.85"/><circle cx="545.97" cy="311.01" r="1.85"/><circle cx="529.92" cy="318.55" r="1.85"/><circle cx="507.55" cy="324.32" r="1.85"/><circle cx="587.28" cy="318.14" r="1.85"/><circle cx="580.96" cy="322.95" r="1.85"/><circle cx="574.51" cy="325.69" r="1.85"/><circle cx="568.2" cy="327.47" r="1.85"/><circle cx="561.75" cy="326.38" r="1.85"/><circle cx="545.97" cy="327.47" r="1.85"/><circle cx="545.97" cy="329.53" r="1.85"/><circle cx="548.72" cy="329.94" r="1.85"/><circle cx="532.93" cy="339.14" r="1.85"/><circle cx="548.99" cy="338.04" r="1.85"/><circle cx="548.99" cy="342.57" r="1.85"/><circle cx="555.3" cy="340.92" r="1.85"/><circle cx="561.75" cy="338.73" r="1.85"/><circle cx="568.2" cy="339.55" r="1.85"/><circle cx="568.2" cy="343.94" r="1.85"/><circle cx="577.81" cy="343.26" r="1.85"/><circle cx="603.6" cy="309.6" r="1.85"/><circle cx="603.6" cy="321.3" r="1.85"/><circle cx="603.6" cy="323.4" r="1.85"/><circle cx="593.8" cy="336" r="1.85"/><circle cx="472.32" cy="346.86" r="1.85"/><circle cx="475.48" cy="357.56" r="1.85"/><circle cx="478.5" cy="357.56" r="1.85"/><circle cx="488.1" cy="357.56" r="1.85"/><circle cx="491.53" cy="362.64" r="1.85"/><circle cx="462.72" cy="371.29" r="1.85"/><circle cx="481.93" cy="368.13" r="1.85"/><circle cx="497.71" cy="373.62" r="1.85"/><circle cx="478.5" cy="378.42" r="1.85"/><circle cx="484.95" cy="378.42" r="1.85"/><circle cx="494.69" cy="379.8" r="1.85"/><circle cx="501.14" cy="382.81" r="1.85"/><circle cx="501.14" cy="399.01" r="1.85"/><circle cx="491.53" cy="406.83" r="1.85"/><circle cx="501.14" cy="408.89" r="1.85"/><circle cx="481.93" cy="411.63" r="1.85"/><circle cx="520.2" cy="346.9" r="1.85"/><circle cx="539.5" cy="346.3" r="1.85"/><circle cx="529.8" cy="350.8" r="1.85"/><circle cx="545.6" cy="350.3" r="1.85"/><circle cx="513.7" cy="355.9" r="1.85"/><circle cx="523.3" cy="355.6" r="1.85"/><circle cx="510.6" cy="360.7" r="1.85"/><circle cx="517" cy="363" r="1.85"/><circle cx="539.5" cy="357.7" r="1.85"/><circle cx="545.6" cy="357.5" r="1.85"/><circle cx="539.1" cy="361.8" r="1.85"/><circle cx="542.5" cy="362" r="1.85"/><circle cx="545.6" cy="363.3" r="1.85"/><circle cx="542.5" cy="369.2" r="1.85"/><circle cx="539.5" cy="371.9" r="1.85"/><circle cx="510.6" cy="378.8" r="1.85"/><circle cx="517" cy="380.3" r="1.85"/><circle cx="513.7" cy="382.9" r="1.85"/><circle cx="510.6" cy="384.9" r="1.85"/><circle cx="516.8" cy="386" r="1.85"/><circle cx="520.4" cy="386" r="1.85"/><circle cx="536" cy="379.1" r="1.85"/><circle cx="536" cy="384" r="1.85"/><circle cx="536" cy="386.2" r="1.85"/><circle cx="542.5" cy="382.7" r="1.85"/><circle cx="542.5" cy="386.9" r="1.85"/><circle cx="520.2" cy="390.4" r="1.85"/><circle cx="529.5" cy="390.4" r="1.85"/><circle cx="532.9" cy="392.2" r="1.85"/><circle cx="536" cy="399.3" r="1.85"/><circle cx="504.1" cy="401.8" r="1.85"/><circle cx="510.6" cy="404" r="1.85"/><circle cx="526.8" cy="408" r="1.85"/><circle cx="520.2" cy="411.7" r="1.85"/><circle cx="510.6" cy="417.4" r="1.85"/><circle cx="523.3" cy="422.7" r="1.85"/><circle cx="561.8" cy="348.9" r="1.85"/><circle cx="561.8" cy="352.9" r="1.85"/><circle cx="555.3" cy="360.4" r="1.85"/><circle cx="561.8" cy="359.9" r="1.85"/><circle cx="549.1" cy="364.8" r="1.85"/><circle cx="564.9" cy="362.6" r="1.85"/><circle cx="564.9" cy="364" r="1.85"/><circle cx="571.4" cy="364.2" r="1.85"/><circle cx="584.1" cy="362" r="1.85"/><circle cx="574.5" cy="368" r="1.85"/><circle cx="580.7" cy="370.2" r="1.85"/><circle cx="584.5" cy="368.5" r="1.85"/><circle cx="558.4" cy="371.6" r="1.85"/><circle cx="561.8" cy="371.6" r="1.85"/><circle cx="561.8" cy="373.3" r="1.85"/><circle cx="555.3" cy="373.6" r="1.85"/><circle cx="555.3" cy="375.3" r="1.85"/><circle cx="574.5" cy="373.8" r="1.85"/><circle cx="555.3" cy="381.2" r="1.85"/><circle cx="564.9" cy="380.5" r="1.85"/><circle cx="574.5" cy="382.9" r="1.85"/><circle cx="549.1" cy="384.6" r="1.85"/><circle cx="574.5" cy="389.3" r="1.85"/><circle cx="549.1" cy="397.7" r="1.85"/><circle cx="549.1" cy="402.3" r="1.85"/><circle cx="549.1" cy="408.1" r="1.85"/><circle cx="549.1" cy="410.2" r="1.85"/><circle cx="549.1" cy="412.2" r="1.85"/><circle cx="552.2" cy="412.2" r="1.85"/><circle cx="574.5" cy="407.4" r="1.85"/><circle cx="593.8" cy="344.5" r="1.85"/><circle cx="613.2" cy="345.8" r="1.85"/><circle cx="622.8" cy="347.5" r="1.85"/><circle cx="597" cy="349.9" r="1.85"/><circle cx="610" cy="350.3" r="1.85"/><circle cx="603.6" cy="354" r="1.85"/><circle cx="597" cy="361.7" r="1.85"/><circle cx="610" cy="358.9" r="1.85"/><circle cx="616.5" cy="360.3" r="1.85"/><circle cx="613.2" cy="367.7" r="1.85"/><circle cx="597" cy="404.9" r="1.85"/><circle cx="616.5" cy="406.8" r="1.85"/><line x1="417.9" y1="258.5" x2="417.9" y2="436.9" stroke="#000" stroke-width="1.9"/><line x1="410.7" y1="429.7" x2="674.8" y2="429.7" stroke="#000" stroke-width="1.9"/><line x1="410.7" y1="429.7" x2="417.9" y2="429.7" stroke="#000" stroke-width="1.7"/><text x="408.9" y="434.1" font-size="12.9" font-weight="bold" text-anchor="end">0</text><line x1="410.7" y1="387.11" x2="417.9" y2="387.11" stroke="#000" stroke-width="1.7"/><text x="408.9" y="391.51" font-size="12.9" font-weight="bold" text-anchor="end">20</text><line x1="410.7" y1="344.52" x2="417.9" y2="344.52" stroke="#000" stroke-width="1.7"/><text x="408.9" y="348.92" font-size="12.9" font-weight="bold" text-anchor="end">40</text><line x1="410.7" y1="301.94" x2="417.9" y2="301.94" stroke="#000" stroke-width="1.7"/><text x="408.9" y="306.34" font-size="12.9" font-weight="bold" text-anchor="end">60</text><line x1="410.7" y1="259.35" x2="417.9" y2="259.35" stroke="#000" stroke-width="1.7"/><text x="408.9" y="263.75" font-size="12.9" font-weight="bold" text-anchor="end">80</text><line x1="417.9" y1="429.7" x2="417.9" y2="436.9" stroke="#000" stroke-width="1.7"/><text x="417.9" y="451" font-size="12.9" font-weight="bold" text-anchor="middle">0</text><line x1="481.92" y1="429.7" x2="481.92" y2="436.9" stroke="#000" stroke-width="1.7"/><text x="481.92" y="451" font-size="12.9" font-weight="bold" text-anchor="middle">20</text><line x1="545.95" y1="429.7" x2="545.95" y2="436.9" stroke="#000" stroke-width="1.7"/><text x="545.95" y="451" font-size="12.9" font-weight="bold" text-anchor="middle">40</text><line x1="609.98" y1="429.7" x2="609.98" y2="436.9" stroke="#000" stroke-width="1.7"/><text x="609.98" y="451" font-size="12.9" font-weight="bold" text-anchor="middle">60</text><line x1="674" y1="429.7" x2="674" y2="436.9" stroke="#000" stroke-width="1.7"/><text x="674" y="451" font-size="12.9" font-weight="bold" text-anchor="middle">80</text><text x="545.95" y="472.5" font-size="14.2" font-weight="bold" text-anchor="middle">Visual Learning</text><text transform="translate(385.9,343.92) rotate(-90)" font-size="14.4" font-weight="bold" text-anchor="middle">SICI</text><text x="545.25" y="262.6" font-size="16.5" word-spacing="0.45" text-anchor="middle"><tspan font-style="italic">r</tspan> = 0.304, <tspan font-style="italic">p</tspan> &lt; 0.001</text><text x="374.25" y="265.4" font-size="21.7">d</text></g>
<g id="pe"><polygon points="92.8,618.29 96.51,617.57 100.22,616.84 103.93,616.09 107.64,615.34 111.35,614.58 115.06,613.79 118.77,612.99 122.47,612.17 126.18,611.31 129.89,610.42 133.6,609.49 137.31,608.5 141.02,607.46 144.73,606.34 148.44,605.14 152.15,603.87 155.86,602.51 159.57,601.08 163.27,599.58 166.98,598.02 170.69,596.41 174.4,594.76 178.11,593.07 181.82,591.36 185.53,589.62 189.24,587.87 192.95,586.1 196.66,584.31 200.37,582.52 204.08,580.72 207.78,578.91 211.49,577.09 215.2,575.27 218.91,573.44 222.62,571.61 226.33,569.78 230.04,567.94 233.75,566.1 237.46,564.26 241.17,562.41 241.17,593.49 237.46,594.18 233.75,594.87 230.04,595.57 226.33,596.26 222.62,596.96 218.91,597.66 215.2,598.37 211.49,599.08 207.78,599.8 204.08,600.52 200.37,601.25 196.66,601.99 192.95,602.74 189.24,603.51 185.53,604.29 181.82,605.08 178.11,605.9 174.4,606.75 170.69,607.63 166.98,608.56 163.27,609.53 159.57,610.56 155.86,611.66 152.15,612.84 148.44,614.1 144.73,615.44 141.02,616.85 137.31,618.34 133.6,619.89 129.89,621.49 126.18,623.13 122.47,624.81 118.77,626.51 115.06,628.25 111.35,630 107.64,631.76 103.93,633.54 100.22,635.33 96.51,637.14 92.8,638.94" fill="#f0ff3a"/><polyline points="92.8,618.29 96.51,617.57 100.22,616.84 103.93,616.09 107.64,615.34 111.35,614.58 115.06,613.79 118.77,612.99 122.47,612.17 126.18,611.31 129.89,610.42 133.6,609.49 137.31,608.5 141.02,607.46 144.73,606.34 148.44,605.14 152.15,603.87 155.86,602.51 159.57,601.08 163.27,599.58 166.98,598.02 170.69,596.41 174.4,594.76 178.11,593.07 181.82,591.36 185.53,589.62 189.24,587.87 192.95,586.1 196.66,584.31 200.37,582.52 204.08,580.72 207.78,578.91 211.49,577.09 215.2,575.27 218.91,573.44 222.62,571.61 226.33,569.78 230.04,567.94 233.75,566.1 237.46,564.26 241.17,562.41" fill="none" stroke="#000" stroke-width="0.9" stroke-dasharray="1 1.6"/><polyline points="92.8,638.94 96.51,637.14 100.22,635.33 103.93,633.54 107.64,631.76 111.35,630 115.06,628.25 118.77,626.51 122.47,624.81 126.18,623.13 129.89,621.49 133.6,619.89 137.31,618.34 141.02,616.85 144.73,615.44 148.44,614.1 152.15,612.84 155.86,611.66 159.57,610.56 163.27,609.53 166.98,608.56 170.69,607.63 174.4,606.75 178.11,605.9 181.82,605.08 185.53,604.29 189.24,603.51 192.95,602.74 196.66,601.99 200.37,601.25 204.08,600.52 207.78,599.8 211.49,599.08 215.2,598.37 218.91,597.66 222.62,596.96 226.33,596.26 230.04,595.57 233.75,594.87 237.46,594.18 241.17,593.49" fill="none" stroke="#000" stroke-width="0.9" stroke-dasharray="1 1.6"/><line x1="92.8" y1="628.62" x2="241.17" y2="577.95" stroke="#111" stroke-width="1.1"/><circle cx="108.2" cy="569.2" r="1.85"/><circle cx="123.5" cy="567.8" r="1.85"/><circle cx="121" cy="581.3" r="1.85"/><circle cx="182.6" cy="518.23" r="1.85"/><circle cx="162.01" cy="544.72" r="1.85"/><circle cx="172.3" cy="554.6" r="1.85"/><circle cx="177.24" cy="552.26" r="1.85"/><circle cx="187.4" cy="556.11" r="1.85"/><circle cx="190.28" cy="553.36" r="1.85"/><circle cx="138.82" cy="562.97" r="1.85"/><circle cx="143.9" cy="568.04" r="1.85"/><circle cx="177.24" cy="566.26" r="1.85"/><circle cx="162.01" cy="570.51" r="1.85"/><circle cx="177.24" cy="572.44" r="1.85"/><circle cx="172.3" cy="574.63" r="1.85"/><circle cx="197.83" cy="572.44" r="1.85"/><circle cx="213.2" cy="563.24" r="1.85"/><circle cx="141.56" cy="574.63" r="1.85"/><circle cx="131.14" cy="582.04" r="1.85"/><circle cx="141.15" cy="581.08" r="1.85"/><circle cx="144.31" cy="582.73" r="1.85"/><circle cx="152.13" cy="584.92" r="1.85"/><circle cx="156.93" cy="583.55" r="1.85"/><circle cx="167.23" cy="581.77" r="1.85"/><circle cx="169.7" cy="585.88" r="1.85"/><circle cx="179.99" cy="587.53" r="1.85"/><circle cx="195.08" cy="583.55" r="1.85"/><circle cx="218.2" cy="571.2" r="1.85"/><circle cx="108.2" cy="592" r="1.85"/><circle cx="118.5" cy="595.9" r="1.85"/><circle cx="115.6" cy="601" r="1.85"/><circle cx="118.2" cy="602.3" r="1.85"/><circle cx="121.1" cy="605.8" r="1.85"/><circle cx="115.6" cy="607.4" r="1.85"/><circle cx="118.2" cy="608.4" r="1.85"/><circle cx="126.2" cy="602.6" r="1.85"/><circle cx="129.1" cy="602.6" r="1.85"/><circle cx="129.1" cy="605.2" r="1.85"/><circle cx="126.2" cy="607.1" r="1.85"/><circle cx="121.1" cy="615.3" r="1.85"/><circle cx="128.5" cy="616.4" r="1.85"/><circle cx="130.7" cy="616.4" r="1.85"/><circle cx="113.4" cy="623.2" r="1.85"/><circle cx="126.2" cy="623.2" r="1.85"/><circle cx="92.8" cy="627.6" r="1.85"/><circle cx="110.8" cy="627.8" r="1.85"/><circle cx="118.2" cy="626.1" r="1.85"/><circle cx="118.5" cy="627.7" r="1.85"/><circle cx="121.1" cy="627.8" r="1.85"/><circle cx="126.2" cy="629" r="1.85"/><circle cx="121.1" cy="635.3" r="1.85"/><circle cx="118.5" cy="643.8" r="1.85"/><circle cx="126.2" cy="642.5" r="1.85"/><circle cx="110.8" cy="653.1" r="1.85"/><circle cx="118.2" cy="652.1" r="1.85"/><circle cx="121.1" cy="653.4" r="1.85"/><circle cx="123.6" cy="651.5" r="1.85"/><circle cx="123.6" cy="656.6" r="1.85"/><circle cx="95.4" cy="656.3" r="1.85"/><circle cx="115.9" cy="662.1" r="1.85"/><circle cx="128.6" cy="667.5" r="1.85"/><circle cx="149.1" cy="588.4" r="1.85"/><circle cx="151.7" cy="590.7" r="1.85"/><circle cx="154.3" cy="592.3" r="1.85"/><circle cx="151.7" cy="594.2" r="1.85"/><circle cx="133.7" cy="591.2" r="1.85"/><circle cx="133.7" cy="595.2" r="1.85"/><circle cx="144" cy="591.6" r="1.85"/><circle cx="144" cy="594.9" r="1.85"/><circle cx="146.6" cy="597.6" r="1.85"/><circle cx="184.8" cy="589" r="1.85"/><circle cx="187.4" cy="589.5" r="1.85"/><circle cx="167.1" cy="603.7" r="1.85"/><circle cx="172.2" cy="606.8" r="1.85"/><circle cx="179.9" cy="607.9" r="1.85"/><circle cx="190.2" cy="607.7" r="1.85"/><circle cx="184.9" cy="618.9" r="1.85"/><circle cx="190.2" cy="618.6" r="1.85"/><circle cx="169.9" cy="623" r="1.85"/><circle cx="138.8" cy="602.4" r="1.85"/><circle cx="149.2" cy="602" r="1.85"/><circle cx="149.2" cy="604.4" r="1.85"/><circle cx="151.5" cy="606.4" r="1.85"/><circle cx="133.7" cy="608.8" r="1.85"/><circle cx="136.4" cy="608.4" r="1.85"/><circle cx="134.1" cy="612.5" r="1.85"/><circle cx="136.4" cy="613.8" r="1.85"/><circle cx="136.4" cy="616.1" r="1.85"/><circle cx="136.4" cy="618.2" r="1.85"/><circle cx="141.5" cy="616.1" r="1.85"/><circle cx="149.2" cy="612.5" r="1.85"/><circle cx="161.9" cy="613.1" r="1.85"/><circle cx="154.2" cy="617.6" r="1.85"/><circle cx="149.2" cy="619.8" r="1.85"/><circle cx="144.1" cy="625.2" r="1.85"/><circle cx="146.8" cy="624.2" r="1.85"/><circle cx="131.4" cy="627.6" r="1.85"/><circle cx="136.4" cy="630.6" r="1.85"/><circle cx="139.1" cy="629.6" r="1.85"/><circle cx="144.1" cy="628.9" r="1.85"/><circle cx="144.1" cy="630.9" r="1.85"/><circle cx="146.8" cy="630.9" r="1.85"/><circle cx="146.8" cy="634.3" r="1.85"/><circle cx="156.9" cy="624.9" r="1.85"/><circle cx="159.6" cy="623.5" r="1.85"/><circle cx="156.9" cy="628.9" r="1.85"/><circle cx="159.6" cy="630.9" r="1.85"/><circle cx="167" cy="635.3" r="1.85"/><circle cx="164.3" cy="644.1" r="1.85"/><circle cx="133.9" cy="648.9" r="1.85"/><circle cx="144" cy="646.6" r="1.85"/><circle cx="149.2" cy="647.1" r="1.85"/><circle cx="131.3" cy="653.5" r="1.85"/><circle cx="131.3" cy="657.2" r="1.85"/><circle cx="138.9" cy="657.2" r="1.85"/><circle cx="146.7" cy="655" r="1.85"/><circle cx="174.8" cy="629.7" r="1.85"/><circle cx="182.5" cy="637" r="1.85"/><circle cx="177.2" cy="651.5" r="1.85"/><circle cx="177.2" cy="652.9" r="1.85"/><circle cx="197.9" cy="649.8" r="1.85"/><circle cx="218.2" cy="599.1" r="1.85"/><circle cx="218.2" cy="600.7" r="1.85"/><circle cx="215.5" cy="605.5" r="1.85"/><circle cx="228.5" cy="606.4" r="1.85"/><circle cx="241.3" cy="594.7" r="1.85"/><line x1="44.2" y1="503.45" x2="44.2" y2="681.8" stroke="#000" stroke-width="1.9"/><line x1="37" y1="674.6" x2="300.8" y2="674.6" stroke="#000" stroke-width="1.9"/><line x1="37" y1="674.6" x2="44.2" y2="674.6" stroke="#000" stroke-width="1.7"/><text x="35.2" y="679" font-size="12.9" font-weight="bold" text-anchor="end">0</text><line x1="37" y1="632.02" x2="44.2" y2="632.02" stroke="#000" stroke-width="1.7"/><text x="35.2" y="636.42" font-size="12.9" font-weight="bold" text-anchor="end">20</text><line x1="37" y1="589.45" x2="44.2" y2="589.45" stroke="#000" stroke-width="1.7"/><text x="35.2" y="593.85" font-size="12.9" font-weight="bold" text-anchor="end">40</text><line x1="37" y1="546.88" x2="44.2" y2="546.88" stroke="#000" stroke-width="1.7"/><text x="35.2" y="551.27" font-size="12.9" font-weight="bold" text-anchor="end">60</text><line x1="37" y1="504.3" x2="44.2" y2="504.3" stroke="#000" stroke-width="1.7"/><text x="35.2" y="508.7" font-size="12.9" font-weight="bold" text-anchor="end">80</text><line x1="44.2" y1="674.6" x2="44.2" y2="681.8" stroke="#000" stroke-width="1.7"/><text x="44.2" y="695.9" font-size="12.9" font-weight="bold" text-anchor="middle">0</text><line x1="95.36" y1="674.6" x2="95.36" y2="681.8" stroke="#000" stroke-width="1.7"/><text x="95.36" y="695.9" font-size="12.9" font-weight="bold" text-anchor="middle">20</text><line x1="146.52" y1="674.6" x2="146.52" y2="681.8" stroke="#000" stroke-width="1.7"/><text x="146.52" y="695.9" font-size="12.9" font-weight="bold" text-anchor="middle">40</text><line x1="197.68" y1="674.6" x2="197.68" y2="681.8" stroke="#000" stroke-width="1.7"/><text x="197.68" y="695.9" font-size="12.9" font-weight="bold" text-anchor="middle">60</text><line x1="248.84" y1="674.6" x2="248.84" y2="681.8" stroke="#000" stroke-width="1.7"/><text x="248.84" y="695.9" font-size="12.9" font-weight="bold" text-anchor="middle">80</text><line x1="300" y1="674.6" x2="300" y2="681.8" stroke="#000" stroke-width="1.7"/><text x="300" y="695.9" font-size="12.9" font-weight="bold" text-anchor="middle">100</text><text x="172.1" y="717.4" font-size="14.2" font-weight="bold" text-anchor="middle">Reasoning and Problem Solving</text><text transform="translate(12.2,588.85) rotate(-90)" font-size="14.4" font-weight="bold" text-anchor="middle">SICI</text><text x="171.4" y="508" font-size="16.5" word-spacing="0.45" text-anchor="middle"><tspan font-style="italic">r</tspan> = 0.337, <tspan font-style="italic">p</tspan> &lt; 0.001</text><text x="0.8" y="509.7" font-size="21.7">e</text></g>
<g id="pf"><polygon points="430.45,626.9 436.06,626.2 441.68,625.48 447.29,624.75 452.9,624.01 458.52,623.26 464.13,622.49 469.74,621.69 475.36,620.87 480.97,620.02 486.58,619.13 492.2,618.19 497.81,617.19 503.42,616.11 509.04,614.95 514.65,613.68 520.26,612.3 525.88,610.8 531.49,609.19 537.11,607.46 542.72,605.63 548.33,603.72 553.95,601.74 559.56,599.71 565.17,597.62 570.79,595.5 576.4,593.35 582.01,591.18 587.63,588.98 593.24,586.77 598.85,584.54 604.47,582.31 610.08,580.06 615.69,577.81 621.31,575.54 626.92,573.28 632.53,571 638.15,568.72 643.76,566.44 649.37,564.16 654.99,561.87 654.99,603.53 649.37,604.21 643.76,604.88 638.15,605.56 632.53,606.24 626.92,606.93 621.31,607.62 615.69,608.32 610.08,609.03 604.47,609.74 598.85,610.47 593.24,611.2 587.63,611.95 582.01,612.72 576.4,613.5 570.79,614.32 565.17,615.16 559.56,616.03 553.95,616.96 548.33,617.94 542.72,618.99 537.11,620.12 531.49,621.36 525.88,622.7 520.26,624.16 514.65,625.74 509.04,627.44 503.42,629.24 497.81,631.12 492.2,633.08 486.58,635.1 480.97,637.17 475.36,639.28 469.74,641.42 464.13,643.59 458.52,645.78 452.9,647.99 447.29,650.21 441.68,652.44 436.06,654.69 430.45,656.94" fill="#f0ff3a"/><polyline points="430.45,626.9 436.06,626.2 441.68,625.48 447.29,624.75 452.9,624.01 458.52,623.26 464.13,622.49 469.74,621.69 475.36,620.87 480.97,620.02 486.58,619.13 492.2,618.19 497.81,617.19 503.42,616.11 509.04,614.95 514.65,613.68 520.26,612.3 525.88,610.8 531.49,609.19 537.11,607.46 542.72,605.63 548.33,603.72 553.95,601.74 559.56,599.71 565.17,597.62 570.79,595.5 576.4,593.35 582.01,591.18 587.63,588.98 593.24,586.77 598.85,584.54 604.47,582.31 610.08,580.06 615.69,577.81 621.31,575.54 626.92,573.28 632.53,571 638.15,568.72 643.76,566.44 649.37,564.16 654.99,561.87" fill="none" stroke="#000" stroke-width="0.9" stroke-dasharray="1 1.6"/><polyline points="430.45,656.94 436.06,654.69 441.68,652.44 447.29,650.21 452.9,647.99 458.52,645.78 464.13,643.59 469.74,641.42 475.36,639.28 480.97,637.17 486.58,635.1 492.2,633.08 497.81,631.12 503.42,629.24 509.04,627.44 514.65,625.74 520.26,624.16 525.88,622.7 531.49,621.36 537.11,620.12 542.72,618.99 548.33,617.94 553.95,616.96 559.56,616.03 565.17,615.16 570.79,614.32 576.4,613.5 582.01,612.72 587.63,611.95 593.24,611.2 598.85,610.47 604.47,609.74 610.08,609.03 615.69,608.32 621.31,607.62 626.92,606.93 632.53,606.24 638.15,605.56 643.76,604.88 649.37,604.21 654.99,603.53" fill="none" stroke="#000" stroke-width="0.9" stroke-dasharray="1 1.6"/><line x1="430.45" y1="641.92" x2="654.99" y2="582.7" stroke="#111" stroke-width="1.1"/><circle cx="461.75" cy="550.89" r="1.85"/><circle cx="487.42" cy="545.4" r="1.85"/><circle cx="493.32" cy="547.05" r="1.85"/><circle cx="490.44" cy="551.3" r="1.85"/><circle cx="471.36" cy="570.79" r="1.85"/><circle cx="449.4" cy="582.18" r="1.85"/><circle cx="503.2" cy="583.82" r="1.85"/><circle cx="531.84" cy="547.19" r="1.85"/><circle cx="560.11" cy="543.07" r="1.85"/><circle cx="569.71" cy="542.66" r="1.85"/><circle cx="585.35" cy="547.46" r="1.85"/><circle cx="541.17" cy="558.85" r="1.85"/><circle cx="563.4" cy="558.85" r="1.85"/><circle cx="566.83" cy="558.85" r="1.85"/><circle cx="579.18" cy="559.12" r="1.85"/><circle cx="522.23" cy="571.2" r="1.85"/><circle cx="560.11" cy="567.08" r="1.85"/><circle cx="569.71" cy="569.83" r="1.85"/><circle cx="563.4" cy="574.49" r="1.85"/><circle cx="579.18" cy="576.96" r="1.85"/><circle cx="585.35" cy="579.43" r="1.85"/><circle cx="544.3" cy="571.9" r="1.85"/><circle cx="544.3" cy="575.7" r="1.85"/><circle cx="547.5" cy="575.7" r="1.85"/><circle cx="550.7" cy="573" r="1.85"/><circle cx="477.4" cy="602.25" r="1.85"/><circle cx="445.97" cy="613.23" r="1.85"/><circle cx="480.97" cy="611.17" r="1.85"/><circle cx="493.59" cy="606.64" r="1.85"/><circle cx="496.75" cy="605.27" r="1.85"/><circle cx="503.2" cy="603.21" r="1.85"/><circle cx="487.42" cy="613.23" r="1.85"/><circle cx="490.44" cy="616.93" r="1.85"/><circle cx="496.75" cy="624.48" r="1.85"/><circle cx="500.04" cy="622.7" r="1.85"/><circle cx="503.2" cy="629.01" r="1.85"/><circle cx="449.4" cy="637.79" r="1.85"/><circle cx="477.4" cy="630.66" r="1.85"/><circle cx="477.4" cy="633.4" r="1.85"/><circle cx="490.44" cy="630.38" r="1.85"/><circle cx="468.2" cy="639.3" r="1.85"/><circle cx="430.19" cy="653.3" r="1.85"/><circle cx="468.2" cy="646.85" r="1.85"/><circle cx="474.38" cy="644.11" r="1.85"/><circle cx="477.4" cy="647.4" r="1.85"/><circle cx="496.75" cy="637.24" r="1.85"/><circle cx="496.75" cy="641.36" r="1.85"/><circle cx="496.75" cy="643.28" r="1.85"/><circle cx="477.4" cy="656.46" r="1.85"/><circle cx="483.99" cy="657.69" r="1.85"/><circle cx="490.44" cy="654.26" r="1.85"/><circle cx="493.59" cy="659.2" r="1.85"/><circle cx="493.59" cy="661.53" r="1.85"/><circle cx="500.04" cy="661.94" r="1.85"/><circle cx="500.04" cy="667.3" r="1.85"/><circle cx="455.85" cy="658.51" r="1.85"/><circle cx="458.87" cy="659.47" r="1.85"/><circle cx="442.82" cy="662.63" r="1.85"/><circle cx="509.5" cy="590.5" r="1.85"/><circle cx="512.7" cy="594.6" r="1.85"/><circle cx="512.7" cy="598.4" r="1.85"/><circle cx="541.2" cy="596.5" r="1.85"/><circle cx="522" cy="605.3" r="1.85"/><circle cx="541.2" cy="603.9" r="1.85"/><circle cx="538.1" cy="607" r="1.85"/><circle cx="509.5" cy="611.3" r="1.85"/><circle cx="531.6" cy="610.8" r="1.85"/><circle cx="535" cy="613.2" r="1.85"/><circle cx="535" cy="614.5" r="1.85"/><circle cx="538.1" cy="612.1" r="1.85"/><circle cx="538.1" cy="615.6" r="1.85"/><circle cx="509.5" cy="616.6" r="1.85"/><circle cx="509.5" cy="619.7" r="1.85"/><circle cx="525.4" cy="614.9" r="1.85"/><circle cx="522" cy="620.5" r="1.85"/><circle cx="519.1" cy="623.8" r="1.85"/><circle cx="534.7" cy="619.5" r="1.85"/><circle cx="538.1" cy="625.7" r="1.85"/><circle cx="506.5" cy="629.4" r="1.85"/><circle cx="509.6" cy="630.5" r="1.85"/><circle cx="515.8" cy="629.1" r="1.85"/><circle cx="512.7" cy="632.9" r="1.85"/><circle cx="512.7" cy="636.8" r="1.85"/><circle cx="509.5" cy="639.4" r="1.85"/><circle cx="518.9" cy="634.2" r="1.85"/><circle cx="518.9" cy="637.3" r="1.85"/><circle cx="522" cy="635.6" r="1.85"/><circle cx="525.4" cy="633.2" r="1.85"/><circle cx="538.1" cy="637.3" r="1.85"/><circle cx="538.1" cy="641.4" r="1.85"/><circle cx="544.3" cy="635.6" r="1.85"/><circle cx="534.7" cy="647.3" r="1.85"/><circle cx="509.5" cy="649" r="1.85"/><circle cx="512.7" cy="649.3" r="1.85"/><circle cx="515.8" cy="652.1" r="1.85"/><circle cx="512.7" cy="653.1" r="1.85"/><circle cx="509.5" cy="654.8" r="1.85"/><circle cx="509.5" cy="656.5" r="1.85"/><circle cx="512.7" cy="658.9" r="1.85"/><circle cx="525.4" cy="656.7" r="1.85"/><circle cx="522" cy="660" r="1.85"/><circle cx="515.8" cy="667.7" r="1.85"/><circle cx="512.7" cy="670.5" r="1.85"/><circle cx="531.6" cy="668.4" r="1.85"/><circle cx="544.3" cy="667.5" r="1.85"/><circle cx="546.6" cy="667.9" r="1.85"/><circle cx="557" cy="590.9" r="1.85"/><circle cx="563.2" cy="590.7" r="1.85"/><circle cx="566.6" cy="595.7" r="1.85"/><circle cx="579.2" cy="591.5" r="1.85"/><circle cx="557" cy="605.8" r="1.85"/><circle cx="557" cy="607.5" r="1.85"/><circle cx="550.6" cy="610.2" r="1.85"/><circle cx="576" cy="604.4" r="1.85"/><circle cx="579.2" cy="602.7" r="1.85"/><circle cx="572.8" cy="609.3" r="1.85"/><circle cx="550.6" cy="619.5" r="1.85"/><circle cx="553.8" cy="619" r="1.85"/><circle cx="553.8" cy="624.1" r="1.85"/><circle cx="569.7" cy="620.7" r="1.85"/><circle cx="582.4" cy="630.9" r="1.85"/><circle cx="550.8" cy="639" r="1.85"/><circle cx="560.1" cy="634.8" r="1.85"/><circle cx="576" cy="645.9" r="1.85"/><circle cx="550.8" cy="660.9" r="1.85"/><circle cx="607.7" cy="609.1" r="1.85"/><circle cx="655.3" cy="652.6" r="1.85"/><line x1="417.8" y1="502.75" x2="417.8" y2="680" stroke="#000" stroke-width="1.9"/><line x1="410.6" y1="672.8" x2="671.6" y2="672.8" stroke="#000" stroke-width="1.9"/><line x1="410.6" y1="672.8" x2="417.8" y2="672.8" stroke="#000" stroke-width="1.7"/><text x="408.8" y="677.2" font-size="12.9" font-weight="bold" text-anchor="end">0</text><line x1="410.6" y1="630.5" x2="417.8" y2="630.5" stroke="#000" stroke-width="1.7"/><text x="408.8" y="634.9" font-size="12.9" font-weight="bold" text-anchor="end">20</text><line x1="410.6" y1="588.2" x2="417.8" y2="588.2" stroke="#000" stroke-width="1.7"/><text x="408.8" y="592.6" font-size="12.9" font-weight="bold" text-anchor="end">40</text><line x1="410.6" y1="545.9" x2="417.8" y2="545.9" stroke="#000" stroke-width="1.7"/><text x="408.8" y="550.3" font-size="12.9" font-weight="bold" text-anchor="end">60</text><line x1="410.6" y1="503.6" x2="417.8" y2="503.6" stroke="#000" stroke-width="1.7"/><text x="408.8" y="508" font-size="12.9" font-weight="bold" text-anchor="end">80</text><line x1="417.8" y1="672.8" x2="417.8" y2="680" stroke="#000" stroke-width="1.7"/><text x="417.8" y="694.1" font-size="12.9" font-weight="bold" text-anchor="middle">0</text><line x1="481.05" y1="672.8" x2="481.05" y2="680" stroke="#000" stroke-width="1.7"/><text x="481.05" y="694.1" font-size="12.9" font-weight="bold" text-anchor="middle">20</text><line x1="544.3" y1="672.8" x2="544.3" y2="680" stroke="#000" stroke-width="1.7"/><text x="544.3" y="694.1" font-size="12.9" font-weight="bold" text-anchor="middle">40</text><line x1="607.55" y1="672.8" x2="607.55" y2="680" stroke="#000" stroke-width="1.7"/><text x="607.55" y="694.1" font-size="12.9" font-weight="bold" text-anchor="middle">60</text><line x1="670.8" y1="672.8" x2="670.8" y2="680" stroke="#000" stroke-width="1.7"/><text x="670.8" y="694.1" font-size="12.9" font-weight="bold" text-anchor="middle">80</text><text x="544.3" y="715.6" font-size="14.2" font-weight="bold" text-anchor="middle">Speed of Processing</text><text transform="translate(385.8,587.6) rotate(-90)" font-size="14.4" font-weight="bold" text-anchor="middle">LICI</text><text x="543.6" y="511.5" font-size="16.5" word-spacing="0.45" text-anchor="middle"><tspan font-style="italic">r</tspan> = 0.247, <tspan font-style="italic">p</tspan> = 0.005</text><text x="379.2" y="509.9" font-size="21.7">f</text></g>
</svg></body></html>
